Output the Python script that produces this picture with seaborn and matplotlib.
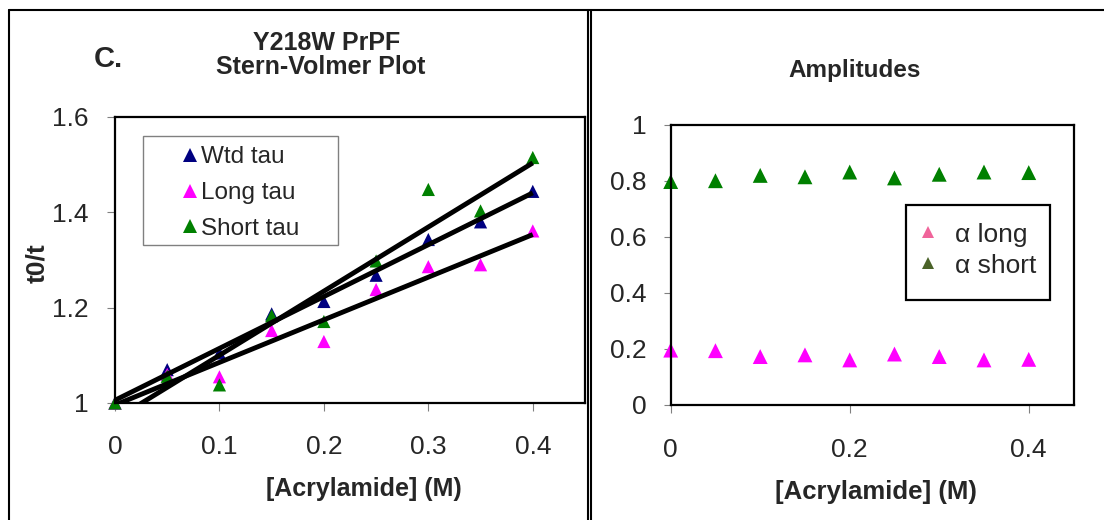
import numpy as np
import pandas as pd
import seaborn as sns
import matplotlib.pyplot as plt
from matplotlib.lines import Line2D
from matplotlib.patches import Rectangle

# data
conc = [0, 0.05, 0.1, 0.15, 0.2, 0.25, 0.3, 0.35, 0.4]
wtd_tau = [1.0, 1.07, 1.105, 1.187, 1.213, 1.268, 1.343, 1.38, 1.444]
long_tau = [1.0, 1.06, 1.055, 1.152, 1.129, 1.238, 1.286, 1.29, 1.361]
short_tau = [1.0, 1.056, 1.038, 1.183, 1.171, 1.298, 1.448, 1.403, 1.515]
alpha_long = [0.196, 0.194, 0.173, 0.179, 0.161, 0.182, 0.173, 0.161, 0.163]
alpha_short = [0.798, 0.801, 0.820, 0.815, 0.832, 0.811, 0.824, 0.832, 0.830]

sv_names = ['Wtd tau', 'Long tau', 'Short tau']
amp_names = ['\u03b1 long', '\u03b1 short']

left_xticks = [0, 0.1, 0.2, 0.3, 0.4]
left_xlabels = ['0', '0.1', '0.2', '0.3', '0.4']
left_yticks = [1, 1.2, 1.4, 1.6]
left_ylabels = ['1', '1.2', '1.4', '1.6']
right_xticks = [0, 0.2, 0.4]
right_xlabels = ['0', '0.2', '0.4']
right_yticks = [0, 0.2, 0.4, 0.6, 0.8, 1]
right_ylabels = ['0', '0.2', '0.4', '0.6', '0.8', '1']

sv = pd.DataFrame({
    'conc': conc * 3,
    'ratio': wtd_tau + long_tau + short_tau,
    'series': [sv_names[0]] * 9 + [sv_names[1]] * 9 + [sv_names[2]] * 9,
})
amp = pd.DataFrame({
    'conc': conc * 2,
    'amp': alpha_long + alpha_short,
    'series': [amp_names[0]] * 9 + [amp_names[1]] * 9,
})

sns.set_style('white')
plt.rcParams['font.family'] = ['Liberation Sans', 'DejaVu Sans']

W, H = 1104, 520
fig = plt.figure(figsize=(11.04, 5.2), dpi=100)

def px(x, y):
    return x / W, 1 - y / H

# axes placed in pixel terms
ax1 = fig.add_axes([115 / W, (520 - 403) / H, 470 / W, 286 / H])
ax2 = fig.add_axes([670.7 / W, (520 - 405) / H, 402.8 / W, 280 / H])

navy, magenta, green = '#000080', '#ff00ff', '#008000'

# left: Stern-Volmer
sns.scatterplot(data=sv, x='conc', y='ratio', hue='series', palette=[navy, magenta, green],
                marker='^', s=90, linewidth=0, clip_on=False, ax=ax1)
for vals in [wtd_tau, long_tau, short_tau]:
    sns.regplot(x=np.array(conc), y=np.array(vals), scatter=False, ci=None, color='black',
                line_kws={'lw': 3.5, 'solid_capstyle': 'butt'}, ax=ax1)

handles, labels = ax1.get_legend_handles_labels()
ax1.legend(handles[:3], labels[:3], loc='upper left', bbox_to_anchor=(0.138, 0.897),
           borderpad=0, borderaxespad=0, frameon=False, handlelength=0.8, handletextpad=0.09,
           labelspacing=0.56, fontsize=17.5, markerscale=1.0)
ax1.add_patch(Rectangle((0.0596, 0.5524), 0.4149, 0.3811, transform=ax1.transAxes,
                        facecolor='white', edgecolor='#808080', lw=1.0, zorder=4, clip_on=False))
ax1.get_legend().set_zorder(5)

ax1.set_xlim(0, 0.45)
ax1.set_ylim(1, 1.6)
ax1.set_xticks(left_xticks)
ax1.set_xticklabels(left_xlabels)
ax1.set_yticks(left_yticks)
ax1.set_yticklabels(left_ylabels)
ax1.set_xlabel('')
ax1.set_ylabel('')
ax1.tick_params(axis='x', direction='out', length=5.8, width=0.8, color='#808080',
                labelsize=19, pad=17, bottom=True)
ax1.tick_params(axis='y', direction='out', length=5.8, width=0.8, color='#808080',
                labelsize=19, pad=13, left=True)

# right: amplitudes
sns.scatterplot(data=amp, x='conc', y='amp', hue='series', palette=[magenta, green],
                marker='^', s=115, linewidth=0, clip_on=False, ax=ax2)
handles, labels = ax2.get_legend_handles_labels()
leg = ax2.legend(handles[:2], labels[:2], loc='upper left', bbox_to_anchor=(0.6132, 0.651),
                 borderpad=0, borderaxespad=0, frameon=False, handlelength=0.8, handletextpad=0.6,
                 labelspacing=0.26, fontsize=19, markerscale=0.75)
for h, c in zip(leg.legend_handles, ['#f0649a', '#4b6329']):
    h.set_markerfacecolor(c)
    h.set_markeredgecolor(c)
ax2.add_patch(Rectangle((0.5834, 0.375), 0.3582, 0.3393, transform=ax2.transAxes,
                        facecolor='white', edgecolor='black', lw=1.6, zorder=4, clip_on=False))
leg.set_zorder(5)

ax2.set_xlim(0, 0.45)
ax2.set_ylim(0, 1)
ax2.set_xticks(right_xticks)
ax2.set_xticklabels(right_xlabels)
ax2.set_yticks(right_yticks)
ax2.set_yticklabels(right_ylabels)
ax2.set_xlabel('')
ax2.set_ylabel('')
ax2.tick_params(axis='x', direction='out', length=5.8, width=0.8, color='#808080',
                labelsize=19, pad=18, bottom=True)
ax2.tick_params(axis='y', direction='out', length=5.2, width=0.8, color='#808080',
                labelsize=19, pad=12, left=True)

for ax in [ax1, ax2]:
    for sp in ax.spines.values():
        sp.set_visible(True)
        sp.set_color('black')
        sp.set_linewidth(1.6)

# text
fig.text(*px(108, 59), 'C.', ha='center', va='center', fontsize=21, fontweight='bold')
fig.text(*px(327, 43), 'Y218W PrPF', ha='center', va='center', fontsize=18, fontweight='bold')
fig.text(*px(321, 67), 'Stern-Volmer Plot', ha='center', va='center', fontsize=18, fontweight='bold')
fig.text(*px(855, 70), 'Amplitudes', ha='center', va='center', fontsize=17.5, fontweight='bold')
fig.text(*px(37, 263), 't0/t', ha='center', va='center', rotation=90, fontsize=19, fontweight='bold')
fig.text(*px(364, 489), '[Acrylamide] (M)', ha='center', va='center', fontsize=18, fontweight='bold')
fig.text(*px(876, 492), '[Acrylamide] (M)', ha='center', va='center', fontsize=18.5, fontweight='bold')

# panel borders
for xs, ys in [([9, 1104], [10, 10]), ([9, 9], [10, 520]), ([588, 588], [10, 520]), ([590.5, 590.5], [10, 520])]:
    fig.add_artist(Line2D([x / W for x in xs], [1 - y / H for y in ys], color='black', lw=1.5))

fig.savefig('out.png', dpi=100)
